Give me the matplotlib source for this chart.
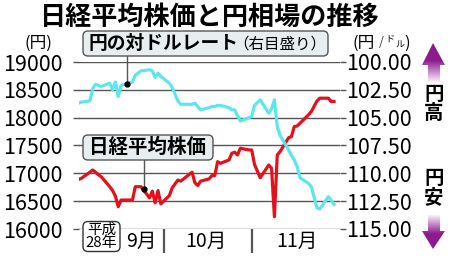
import numpy as np
import pandas as pd
import matplotlib
matplotlib.use('Agg')
from matplotlib import pyplot as plt
from matplotlib.patches import FancyBboxPatch, Polygon

plt.rcParams['font.family'] = ['Noto Sans CJK JP', 'DejaVu Sans']

# 取引日（平成28年9月〜11月）
dates = pd.to_datetime([
    '2016-09-01', '2016-09-02', '2016-09-05', '2016-09-06', '2016-09-07', '2016-09-08', '2016-09-09',
    '2016-09-12', '2016-09-13', '2016-09-14', '2016-09-15', '2016-09-16', '2016-09-20', '2016-09-21',
    '2016-09-23', '2016-09-26', '2016-09-27', '2016-09-28', '2016-09-29', '2016-09-30',
    '2016-10-03', '2016-10-04', '2016-10-05', '2016-10-06', '2016-10-07', '2016-10-11', '2016-10-12',
    '2016-10-13', '2016-10-14', '2016-10-17', '2016-10-18', '2016-10-19', '2016-10-20', '2016-10-21',
    '2016-10-24', '2016-10-25', '2016-10-26', '2016-10-27', '2016-10-28', '2016-10-31',
    '2016-11-01', '2016-11-02', '2016-11-04', '2016-11-07', '2016-11-08', '2016-11-09', '2016-11-10',
    '2016-11-11', '2016-11-14', '2016-11-15', '2016-11-16', '2016-11-17', '2016-11-18', '2016-11-21',
    '2016-11-22', '2016-11-24', '2016-11-25', '2016-11-28', '2016-11-29', '2016-11-30'])

# 日経平均株価（円）
nikkei = [16890, 16910, 17020, 17060, 17020, 16975, 16940,
          16760, 16690, 16590, 16400, 16520, 16520, 16760,
          16760, 16560, 16680, 16470, 16690, 16450,
          16600, 16740, 16810, 16880, 16860, 17020, 16830,
          16780, 16860, 16900, 16960, 16960, 17210, 17180,
          17240, 17360, 17380, 17330, 17450, 17420,
          17420, 17160, 16920, 17150, 17090, 16220, 17330,
          17390, 17640, 17660, 17840, 17850, 17900, 18050,
          18110, 18300, 18350, 18350, 18290, 18290]

# 円の対ドルレート（円/ドル）
usdjpy = [103.7, 103.6, 103.5, 102.4, 102.0, 102.1, 102.2,
          101.9, 102.5, 101.8, 103.1, 102.1, 101.8, 101.2,
          100.8, 100.7, 100.8, 101.4, 101.0, 101.3,
          101.9, 102.3, 102.9, 103.5, 103.8, 103.8, 103.7,
          104.0, 104.3, 104.1, 104.0, 104.0, 103.9, 103.9,
          104.1, 104.3, 104.3, 104.8, 105.3, 105.0,
          104.9, 103.9, 103.4, 104.6, 104.2, 103.4, 105.8,
          106.6, 107.9, 108.4, 108.8, 109.4, 110.4, 110.9,
          111.2, 113.1, 113.2, 112.1, 112.4, 112.8]

nikkei_ticks = [16000, 16500, 17000, 17500, 18000, 18500, 19000]
yen_ticks = [100.0, 102.5, 105.0, 107.5, 110.0, 112.5, 115.0]
month_edges = pd.to_datetime(['2016-10-01', '2016-11-01'])
month_labels = ['9月', '10月', '11月']
month_label_pos = pd.to_datetime(['2016-09-23', '2016-10-16', '2016-11-17'])

# 引き出し線の位置
yen_mark = (pd.Timestamp('2016-09-18'), 102.0)
nikkei_mark = (pd.Timestamp('2016-09-24'), 16720)

RED = '#e4101a'
CYAN = '#5ee6ee'
GRID = '#555555'
W, H = 450, 258

fig = plt.figure(figsize=(4.5, 2.58), dpi=100)
L, R, T, B = 78.5, 340, 62, 229
ax = fig.add_axes([L / W, (H - B) / H, (R - L) / W, (B - T) / H])
ax2 = ax.twinx()

ax.plot(dates, nikkei, color=RED, lw=2.3, solid_joinstyle='round', zorder=3)
ax2.plot(dates, usdjpy, color=CYAN, lw=2.3, solid_joinstyle='round', zorder=3)

start = pd.Timestamp('2016-09-01')
ax.set_xlim(start, start + pd.Timedelta(days=92.1))
ax.set_ylim(16000, 19000)
ax2.set_ylim(115, 100)

ax.set_yticks(nikkei_ticks)
ax.set_yticklabels([str(v) for v in nikkei_ticks])
ax2.set_yticks(yen_ticks)
ax2.set_yticklabels(['%.2f' % v for v in yen_ticks])
ax.grid(axis='y', color=GRID, lw=1.0)
ax.set_axisbelow(True)

ax.tick_params(axis='y', length=4.5, width=1.0, color=GRID, pad=7, labelsize=15.5)
ax2.tick_params(axis='y', length=4, width=1.0, color=GRID, pad=0.5, labelsize=15.5)
ax.set_xticks(month_edges)
ax.set_xticklabels([])
ax.tick_params(axis='x', length=17, width=1.6, color=GRID)
for a in (ax, ax2):
    for s in a.spines.values():
        s.set_visible(False)

for d, lab in zip(month_label_pos, month_labels):
    ax.text(d, -0.075, lab, transform=ax.get_xaxis_transform(), ha='center', va='center',
            fontsize=14)

# 引き出し線と点
ax2.plot([yen_mark[0]] * 2, [yen_mark[1], 99.5], color=GRID, lw=1.0, clip_on=False, zorder=4)
ax2.plot(*yen_mark, 'o', color='black', ms=3.5, zorder=5)
ax.plot([nikkei_mark[0]] * 2, [nikkei_mark[1], 17240], color=GRID, lw=1.0, zorder=4)
ax.plot(*nikkei_mark, 'o', color='black', ms=3.5, zorder=5)

# 注記用（ピクセル座標）
ov = fig.add_axes([0, 0, 1, 1])
ov.set_xlim(0, W)
ov.set_ylim(H, 0)
ov.axis('off')
ov.set_zorder(10)
ov.patch.set_visible(False)

ov.text(210, 17, '日経平均株価と円相場の推移', ha='center', va='center',
        fontsize=18.8, fontweight='bold')
ov.text(38.5, 43, '(円)', ha='center', va='center', fontsize=12)
ov.text(352, 43, '(円', ha='left', va='center', fontsize=12)
ov.text(381, 43, '/', ha='center', va='center', fontsize=9, color='#333333')
ov.text(390, 39, 'ド', ha='center', va='center', fontsize=6.5)
ov.text(400, 45, 'ル', ha='center', va='center', fontsize=6.5)
ov.text(407, 43, ')', ha='center', va='center', fontsize=12)

box_fc = '#e8eef0'
ov.add_patch(FancyBboxPatch((83, 31), 245, 25, boxstyle='round,pad=0,rounding_size=5',
                            fc=box_fc, ec='#555555', lw=1.0))
ov.text(88, 43.5, '円の対ドルレート', ha='left', va='center', fontsize=13.5, fontweight='bold')
ov.text(233, 44, '（右目盛り）', ha='left', va='center', fontsize=11.2)

ov.add_patch(FancyBboxPatch((83, 135), 130, 25, boxstyle='round,pad=0,rounding_size=5',
                            fc=box_fc, ec='#555555', lw=1.0))
ov.text(148, 147.5, '日経平均株価', ha='center', va='center', fontsize=14, fontweight='bold')

ov.add_patch(FancyBboxPatch((83, 221.5), 37, 30, boxstyle='round,pad=0,rounding_size=5',
                            fc='white', ec='#333333', lw=1.0))
ov.text(101.5, 229.5, '平成', ha='center', va='center', fontsize=10.5)
ov.text(101.5, 243, '28年', ha='center', va='center', fontsize=10.8)

ov.text(434, 94, '円', ha='center', va='center', fontsize=14, fontweight='bold')
ov.text(434, 113, '高', ha='center', va='center', fontsize=14, fontweight='bold')
ov.text(434, 178, '円', ha='center', va='center', fontsize=14, fontweight='bold')
ov.text(434, 198, '安', ha='center', va='center', fontsize=14, fontweight='bold')

# 矢印（グラデーション）
purple = np.array([0.55, 0.11, 0.56])
def gradient_arrow(pts, y0, y1, solid_at_top):
    poly = Polygon(pts, closed=True, fc='none', ec='none')
    ov.add_patch(poly)
    t = np.linspace(0, 1, 64)[:, None]
    if solid_at_top:
        k = np.clip((t - 0.45) / 0.55, 0, 1)
    else:
        k = np.clip(1 - t / 0.55, 0, 1)
    col = purple * (1 - k) + np.array([0.98, 0.93, 0.98]) * k
    img = np.repeat(col[:, None, :], 2, axis=1)
    xs = [p[0] for p in pts]
    im = ov.imshow(img, extent=(min(xs), max(xs), y0, y1), origin='lower', aspect='auto',
                   interpolation='bilinear', zorder=2)
    im.set_clip_path(poly)

gradient_arrow([(433, 43), (445, 65), (440, 65), (440, 82), (428, 82), (428, 65), (422, 65)],
               43, 82, True)
gradient_arrow([(428, 215), (440, 215), (440, 231), (445, 231), (433, 249), (422, 231), (428, 231)],
               215, 249, False)
ov.set_xlim(0, W)
ov.set_ylim(H, 0)

fig.savefig('out.png', dpi=100)
